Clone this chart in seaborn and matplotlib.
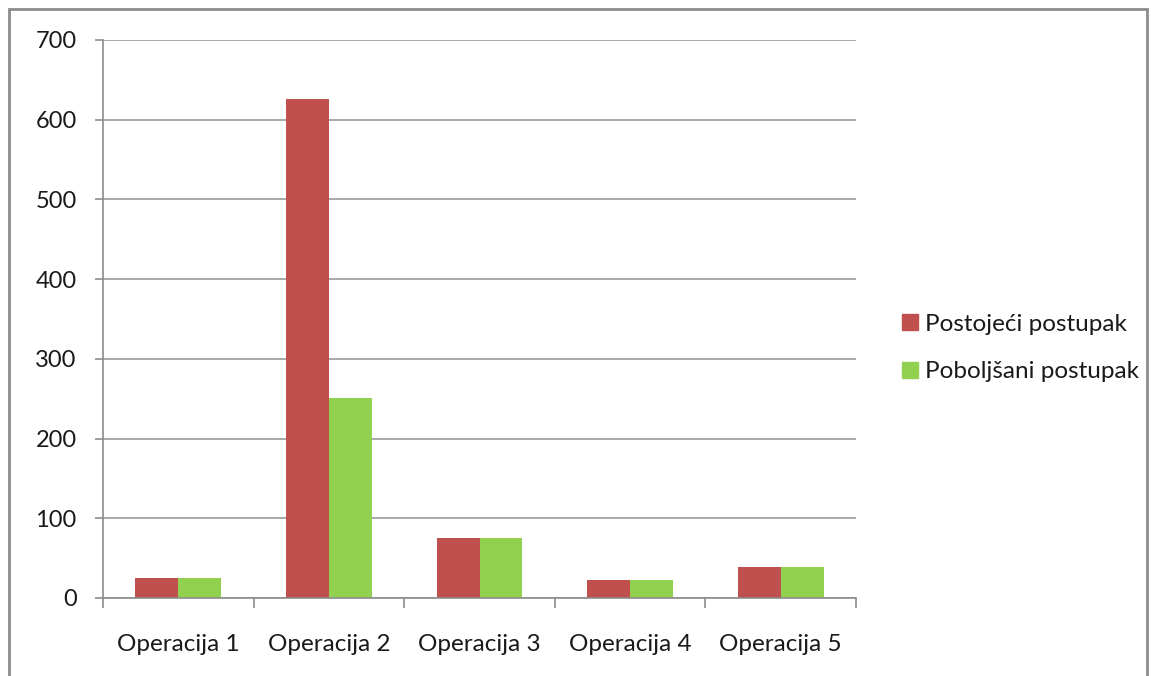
import numpy as np
import pandas as pd
import matplotlib.pyplot as plt
import matplotlib.patches as mpatches
import seaborn as sns

sns.set_theme(style="white")
plt.rcParams['font.family'] = ['Lato', 'DejaVu Sans']

# Chart data
operations = ["Operacija 1", "Operacija 2", "Operacija 3", "Operacija 4", "Operacija 5"]
existing = [25, 626, 75, 22, 39]
improved = [25, 251, 75, 22, 39]
series_names = ["Postojeći postupak", "Poboljšani postupak"]
y_ticks = [0, 100, 200, 300, 400, 500, 600, 700]

df = pd.DataFrame({
    "Operacija": operations * 2,
    "Vrijednost": existing + improved,
    "Postupak": [series_names[0]] * len(operations) + [series_names[1]] * len(operations),
})

colors = {series_names[0]: "#C0504D", series_names[1]: "#92D050"}

fig = plt.figure(figsize=(11.51, 6.76), dpi=100)
ax = fig.add_axes([103 / 1151, 78 / 676, 753 / 1151, 558 / 676])

sns.barplot(data=df, x="Operacija", y="Vrijednost", hue="Postupak", palette=colors,
            width=0.57, gap=0, saturation=1, linewidth=0, ax=ax, legend=False)

ax.set_ylim(0, 700)
ax.set_xlim(-0.5, len(operations) - 0.5)
ax.set_yticks(y_ticks)
ax.yaxis.grid(True, color="#9a9a9a", linewidth=1.2)
ax.set_axisbelow(True)
ax.set_xlabel("")
ax.set_ylabel("")

for side in ["top", "right"]:
    ax.spines[side].set_visible(False)
for side in ["left", "bottom"]:
    ax.spines[side].set_color("#8c8c8c")
    ax.spines[side].set_linewidth(1.2)

ax.tick_params(axis="y", left=True, length=6, width=1.2, color="#8c8c8c",
               pad=13, labelsize=17, labelcolor="#1a1a1a")
ax.tick_params(axis="x", which="major", bottom=False, length=0, pad=26,
               labelsize=17.5, labelcolor="#1a1a1a")
ax.set_xticks(np.arange(-0.5, len(operations)), minor=True)
ax.tick_params(axis="x", which="minor", bottom=True, length=7, width=1.2, color="#8c8c8c")

handles = [mpatches.Patch(color=colors[n], label=n) for n in series_names]
fig.legend(handles=handles, loc="center left", bbox_to_anchor=(880 / 1151, 1 - 348 / 676),
           frameon=False, fontsize=17.5, handlelength=0.65, handleheight=0.65,
           handletextpad=0.3, labelspacing=1.1, labelcolor="#1a1a1a")

# outer chart border
fig.patches.append(mpatches.Rectangle((9 / 1151, -0.05), 1138 / 1151, 1.05 - 9 / 676,
                                      transform=fig.transFigure, fill=False,
                                      edgecolor="#8c8c8c", linewidth=2))

fig.savefig("out.png", dpi=100)
